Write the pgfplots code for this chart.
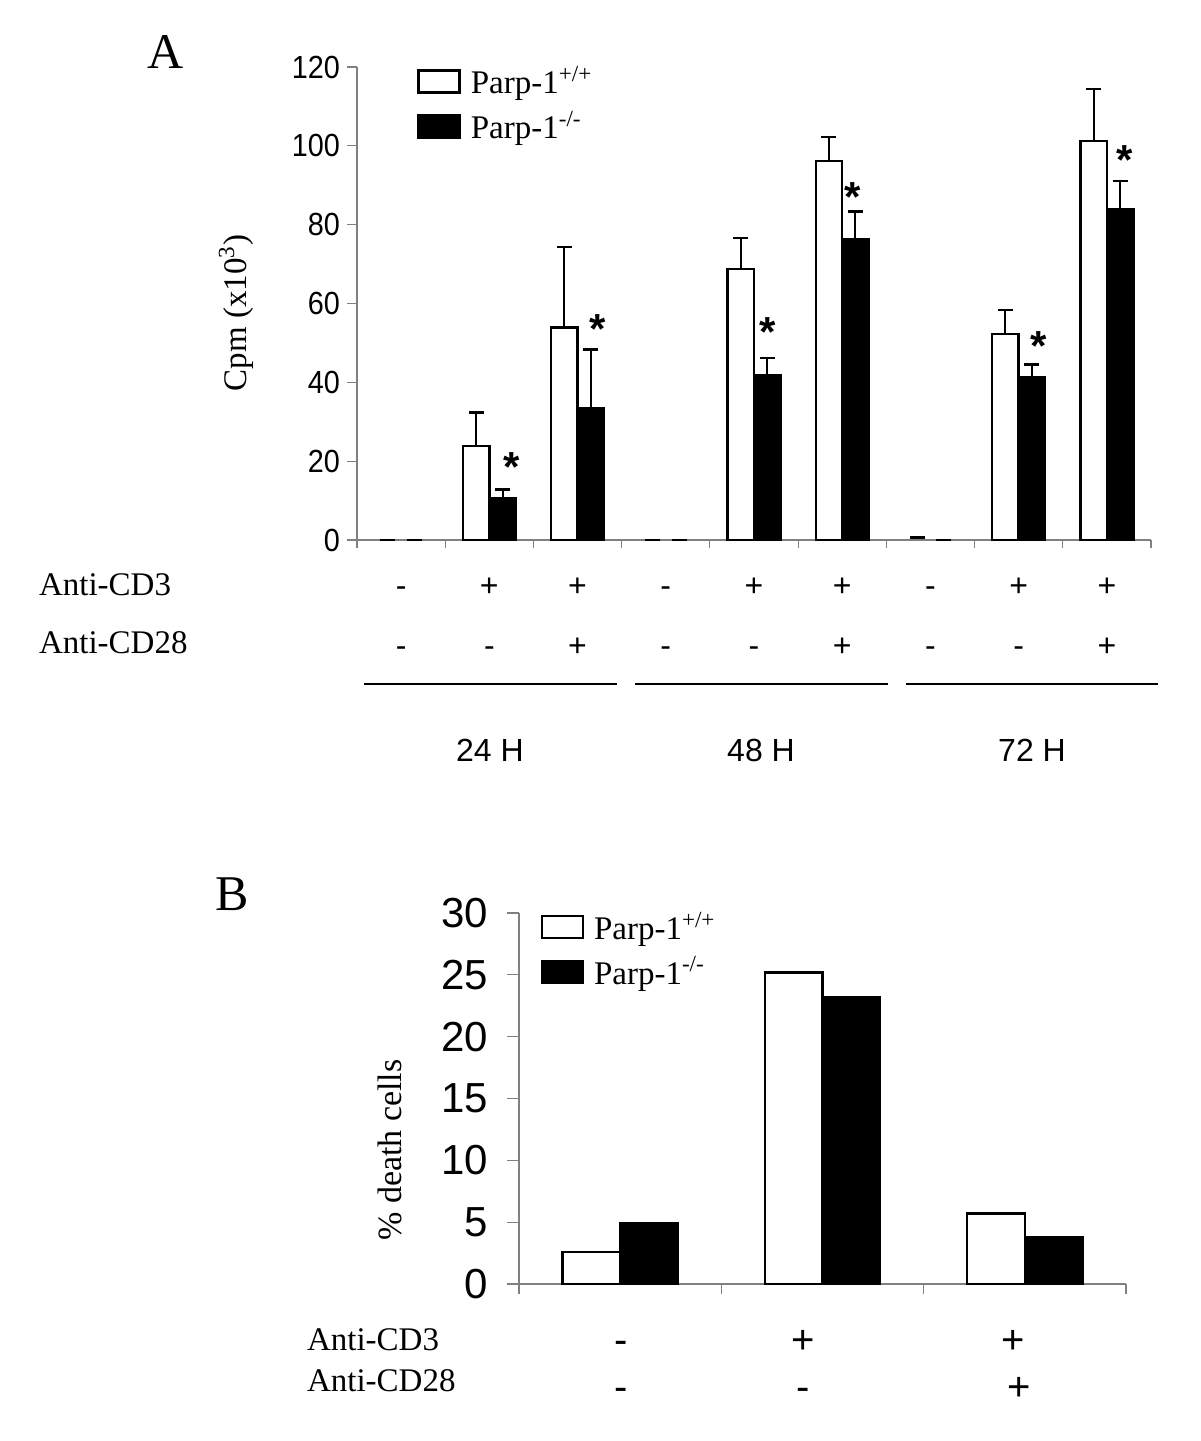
\documentclass[border=0pt]{standalone}
\usepackage{pgfplots}
\usepackage{pgfplotstable}
\pgfplotsset{compat=1.18}
\usepackage{fontspec}
\setmainfont{Liberation Serif}
\newfontfamily\sans{Liberation Sans}
\newfontfamily\nsans{Liberation Sans}[FakeStretch=0.9]

\pgfplotstableread{
x w we b be
0 0 0 0 0
1 23.9 8.4 10.7 2.1
2 53.9 20.5 33.4 14.9
3 0 0 0 0
4 68.8 7.8 41.8 4.3
5 96.1 6.1 76.2 7.1
6 0.2 0.4 0 0
7 52.2 6.1 41.2 3.3
8 101.2 13.2 83.9 7.2
}\dataA

\pgfplotstableread{
x w b
0 2.6 4.9
1 25.2 23.2
2 5.7 3.8
}\dataB

\pgfplotstableread{
x y
1.255 19.6
2.225 54.8
4.16 53.9
5.115 88.2
7.225 50.5
8.2 97.5
}\stars

\pgfplotsset{
  boxlegend/.style={legend image code/.code={\draw[##1,line width=1.2pt] (0pt,-5.5pt) rectangle (20.5pt,5.5pt);}},
  errstyle/.style={forget plot, draw=none, error bars/.cd, y dir=plus, y explicit,
    error mark=|,
    error bar style={draw=black, line width=1pt},
    error mark options={draw=black, line width=1.2pt, mark size=3.75pt}},
}

\begin{document}
\begin{tikzpicture}[x=0.5pt,y=0.5pt]
\path[use as bounding box] (0,0) rectangle (1200,1441);

% ---------------- Panel A ----------------
\begin{axis}[
  at={(178.5pt,450.5pt)}, anchor=south west, scale only axis,
  width=397pt, height=236.5pt,
  xmin=-0.5, xmax=8.5, ymin=0, ymax=120,
  ytick={0,20,...,120},
  axis x line*=bottom, axis y line*=left,
  axis line style={draw=gray, line width=0.6pt},
  tick align=outside, major tick length=5pt, minor tick length=4pt,
  tick style={draw=gray, line width=0.6pt},
  xtick={0,...,8}, xticklabels={-,+,+,-,+,+,-,+,+},
  minor xtick={-0.5,0.5,...,8.5},
  major x tick style={draw=none},
  extra x ticks={0,...,8}, extra x tick labels={-,-,+,-,-,+,-,-,+},
  extra x tick style={major x tick style={draw=none}, xticklabel style={yshift=-30pt}},
  xticklabel style={font=\sans\fontsize{16}{16}\selectfont, anchor=base, yshift=-23.25pt},
  yticklabel style={font=\nsans\fontsize{16}{16}\selectfont},
  /pgf/number format/assume math mode=true,
  ylabel={Cpm (x10\textsuperscript{3})},
  ylabel style={at={(rel axis cs:-0.152,0.48)}, anchor=center, font=\fontsize{16.5}{18}\selectfont},
  legend style={at={(0.0756,1.011)}, anchor=north west, draw=none, fill=none,
    font=\fontsize{16.5}{18}\selectfont, row sep=3pt, column sep=3pt, inner sep=0pt},
  legend cell align=left,
  clip=false,
]
\addplot[ybar, bar width=0.3, bar shift=-0.15, fill=white, draw=black, line width=1.2pt,
  y filter/.expression={y<0.5 ? nan : y}, boxlegend] table[x=x,y=w] {\dataA};
\addlegendentry{Parp-1\textsuperscript{+/+}}
\addplot[ybar, bar width=0.3, bar shift=0.15, fill=black, draw=black, line width=1.2pt,
  y filter/.expression={y<0.5 ? nan : y}, boxlegend] table[x=x,y=b] {\dataA};
\addlegendentry{Parp-1\textsuperscript{-/-}}
\addplot[errstyle] table[x expr=\thisrow{x}-0.15, y=w, y error=we] {\dataA};
\addplot[errstyle] table[x expr=\thisrow{x}+0.15, y=b, y error=be] {\dataA};
\addplot[forget plot, only marks, mark=*, mark size=0pt, mark options={draw=none,fill=none},
  nodes near coords={*},
  every node near coord/.append style={font=\sans\bfseries\fontsize{21}{21}\selectfont, anchor=center, yshift=-2.4pt, inner sep=0pt}]
  table[x=x,y=y] {\stars};
\end{axis}

% table under panel A
\node[anchor=base west, font=\fontsize{16.5}{18}\selectfont] at (32,845) {Anti-CD3};
\node[anchor=base west, font=\fontsize{16.5}{18}\selectfont] at (32,787) {Anti-CD28};
\draw[line width=1.3pt] (364,757) -- (617,757);
\draw[line width=1.3pt] (635,757) -- (888,757);
\draw[line width=1.3pt] (906,757) -- (1158,757);
\node[font=\sans\fontsize{16}{16}\selectfont] at (490,691) {24 H};
\node[font=\sans\fontsize{16}{16}\selectfont] at (761,691) {48 H};
\node[font=\sans\fontsize{16}{16}\selectfont] at (1032,691) {72 H};
\node[font=\fontsize{25}{25}\selectfont] at (166,1389) {A};

% ---------------- Panel B ----------------
\begin{axis}[
  at={(259.5pt,78.5pt)}, anchor=south west, scale only axis,
  width=303.5pt, height=185.5pt,
  xmin=-0.5, xmax=2.5, ymin=0, ymax=30,
  ytick={0,5,...,30},
  axis x line*=bottom, axis y line*=left,
  axis line style={draw=gray, line width=0.6pt},
  tick align=outside, major tick length=6pt, minor tick length=5pt,
  tick style={draw=gray, line width=0.6pt},
  xtick={0.004,0.904,1.942}, xticklabels={-,+,+},
  minor xtick={-0.5,0.5,1.5,2.5},
  major x tick style={draw=none},
  extra x ticks={0.004,0.904,1.972}, extra x tick labels={-,-,+},
  extra x tick style={major x tick style={draw=none}, xticklabel style={yshift=-23.5pt}},
  xticklabel style={font=\sans\fontsize{20}{20}\selectfont, anchor=base, yshift=-28.5pt},
  yticklabel style={font=\sans\fontsize{21}{21}\selectfont, xshift=-6pt},
  /pgf/number format/assume math mode=true,
  ylabel={\% death cells},
  ylabel style={at={(rel axis cs:-0.213,0.361)}, anchor=center, font=\fontsize{17}{18}\selectfont},
  legend style={at={(0.035,1.015)}, anchor=north west, draw=none, fill=none,
    font=\fontsize{16.5}{18}\selectfont, row sep=3pt, column sep=3pt, inner sep=0pt},
  legend cell align=left,
  clip=false,
]
\addplot[ybar, bar width=0.285, bar shift=-0.1425, fill=white, draw=black, line width=1.2pt, boxlegend]
  table[x=x,y=w] {\dataB};
\addlegendentry{Parp-1\textsuperscript{+/+}}
\addplot[ybar, bar width=0.285, bar shift=0.1425, fill=black, draw=black, line width=1.2pt, boxlegend]
  table[x=x,y=b] {\dataB};
\addlegendentry{Parp-1\textsuperscript{-/-}}
\end{axis}

\node[anchor=base west, font=\fontsize{16.5}{18}\selectfont] at (300,90) {Anti-CD3};
\node[anchor=base west, font=\fontsize{16.5}{18}\selectfont] at (300,49) {Anti-CD28};
\node[font=\fontsize{25}{25}\selectfont] at (232,547) {B};
\end{tikzpicture}
\end{document}
